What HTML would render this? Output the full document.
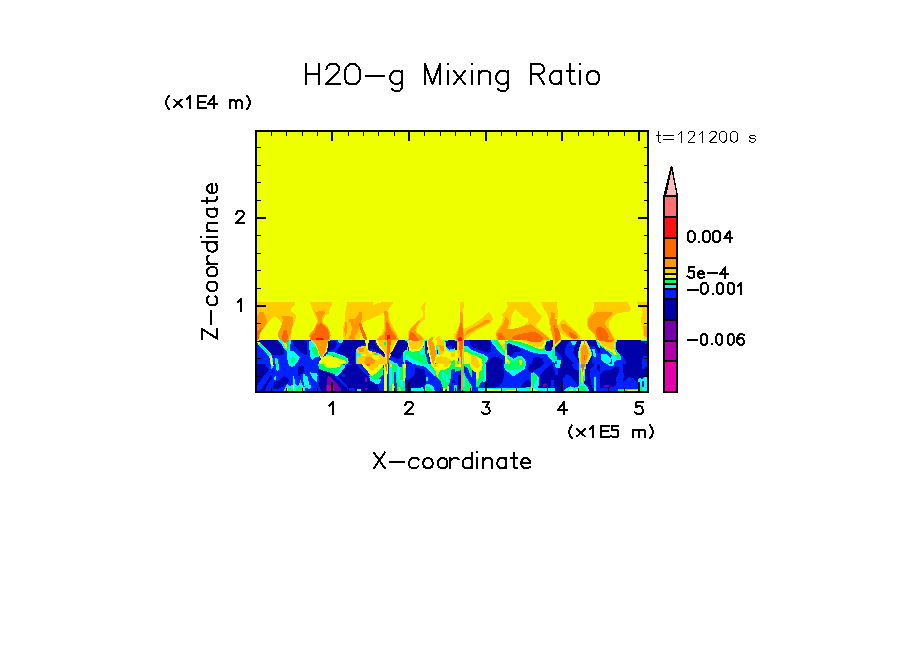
<!DOCTYPE html>
<html><head><meta charset="utf-8"><style>
html,body{margin:0;padding:0;background:#fff;width:904px;height:654px;overflow:hidden}
svg{display:block}
text{font-family:"Liberation Sans",sans-serif;fill:#000}
</style></head><body>
<svg width="904" height="654" viewBox="0 0 904 654" shape-rendering="crispEdges">
<rect x="0" y="0" width="904" height="654" fill="#fff"/>
<defs><clipPath id="cg"><rect x="257" y="302" width="390" height="38"/></clipPath><clipPath id="cb"><rect x="257" y="340" width="390" height="51"/></clipPath></defs>
<rect x="257" y="132" width="390" height="259" fill="#eeff00"/>
<g clip-path="url(#cg)">
<polygon points="257.0,302.0 294.7,302.0 294.7,305.4 291.3,308.1 291.3,311.5 295.4,314.1 296.0,318.2 294.7,321.5 292.7,326.3 291.7,331.6 291.3,335.7 291.3,340.4 257.0,340.4" fill="#ffcc00"/>
<polygon points="259.0,340.4 260.4,333.0 265.1,326.9 268.5,322.2 273.2,317.2 277.2,317.5 279.2,319.5 281.9,323.6 280.6,327.6 278.5,331.6 277.9,335.7 279.9,340.4" fill="#eeff00"/>
<polygon points="257.0,316.2 259.7,312.1 263.7,312.1 266.4,318.2 267.1,321.5 265.1,326.3 261.7,330.3 259.0,335.7 257.0,340.4" fill="#ff9900"/>
<polygon points="257.0,331.6 265.1,325.6 261.7,329.6 259.0,335.0 258.4,340.4 257.0,340.4" fill="#ff6600"/>
<polygon points="281.2,315.5 292.7,316.8 292.7,324.9 291.3,330.3 290.0,335.7 288.6,340.4 279.9,340.4 277.9,335.7 278.5,331.6 280.6,327.6 281.9,323.6 283.3,320.9" fill="#ff9900"/>
<polygon points="283.9,330.3 286.6,330.3 288.0,335.7 287.3,340.4 281.9,340.4 282.6,334.3" fill="#ff6600"/>
<polygon points="310.0,302.0 331.6,302.0 331.6,305.4 329.9,307.4 328.9,313.5 325.2,315.5 323.2,320.2 322.5,323.6 325.2,324.9 327.9,327.6 329.9,331.6 330.6,335.7 329.9,340.4 311.1,340.4 309.0,335.7 310.4,333.0 313.7,330.3 315.1,326.9 317.1,321.5 315.8,317.5 313.7,312.8 311.7,308.1" fill="#ffcc00"/>
<polygon points="315.1,312.5 318.5,311.1 323.8,311.1 325.2,312.5 323.2,315.5 321.5,318.2 321.8,322.2 325.2,324.9 327.9,327.6 329.9,331.6 330.6,335.7 329.9,340.4 310.4,340.4 309.0,335.7 311.1,332.3 313.7,330.3 315.1,326.3 317.1,323.6 318.5,320.2 317.1,316.8" fill="#ff9900"/>
<polygon points="316.4,326.3 320.5,322.9 322.5,323.6 325.2,326.3 327.9,329.6 329.2,333.7 329.2,337.0 327.9,340.4 311.7,340.4 310.4,337.0 311.7,334.3 315.1,332.3 315.8,328.9" fill="#ff6600"/>
<polygon points="315.8,338.4 318.5,337.7 322.5,337.7 323.8,339.4 323.8,340.4 315.8,340.4" fill="#ff1111"/>
<polygon points="347.4,302.0 355.0,302.0 355.0,340.4 344.0,340.4 343.3,335.7 342.7,330.3 344.0,323.6 345.4,318.2 345.4,311.5 346.7,304.7" fill="#ffcc00"/>
<polygon points="349.4,318.9 355.0,318.9 355.0,340.4 348.1,338.4 350.7,334.3 352.1,328.9 351.4,324.9 349.4,321.5" fill="#ff9900"/>
<polygon points="344.7,321.5 346.7,322.2 346.7,333.7 345.4,335.7 344.4,331.6" fill="#ff9900"/>
<polygon points="355.0,302.0 372.5,302.0 373.2,305.4 375.2,304.7 377.2,303.4 382.6,302.0 393.7,302.0 391.3,305.4 389.3,308.8 387.3,311.5 383.9,311.5 380.6,314.8 375.2,316.8 369.8,319.5 364.4,320.9 362.4,323.6 361.1,330.3 360.4,335.7 359.0,340.4 355.0,340.4" fill="#ffcc00"/>
<polygon points="355.0,318.9 357.7,315.5 359.7,312.1 361.7,311.5 361.7,318.2 361.1,323.6 359.0,328.3 357.0,333.0 355.0,335.7" fill="#ff9900"/>
<polygon points="359.0,323.6 361.1,322.9 363.1,328.9 365.8,334.3 367.4,340.4 365.1,340.4 362.4,335.7 360.4,329.6" fill="#ff6600"/>
<polygon points="383.3,310.8 388.0,310.8 390.0,320.2 392.7,326.9 396.7,333.0 398.7,337.0 399.4,340.4 376.5,340.4 377.9,337.7 381.9,334.3 383.9,328.3 383.9,318.2" fill="#ffcc00"/>
<polygon points="383.9,311.1 387.3,311.1 388.0,315.5 388.6,320.9 390.7,326.3 392.7,329.6 395.4,333.0 397.4,337.0 398.1,340.4 377.2,340.4 377.9,338.4 380.6,336.3 383.3,334.3 385.3,328.3 385.3,320.9 384.6,315.5" fill="#ff9900"/>
<polygon points="385.9,322.2 388.0,322.2 389.3,326.3 391.3,330.3 394.0,334.3 396.0,337.0 396.0,340.4 384.6,340.4 385.3,334.3 385.9,328.9" fill="#ff6600"/>
<polygon points="387.0,335.0 389.6,335.0 390.0,339.0 387.3,339.7" fill="#ff1111"/>
<polygon points="425.2,302.0 425.9,302.0 425.2,306.7 424.5,311.5 424.5,319.5 421.1,322.2 417.8,326.3 416.4,328.9 417.1,332.3 419.8,334.3 423.2,337.0 424.5,340.4 407.7,340.4 408.4,331.6 410.4,328.3 414.4,324.2 418.5,320.2 422.5,317.5 423.2,311.5 421.1,308.8 421.8,306.1" fill="#ffcc00"/>
<polygon points="418.5,320.9 419.8,321.5 416.4,326.3 415.1,329.6 416.4,333.0 419.8,335.7 422.5,338.4 423.2,340.4 408.4,340.4 409.0,331.6 412.4,326.9 415.8,323.6" fill="#ff9900"/>
<polygon points="410.4,331.6 413.1,333.0 416.4,336.3 418.5,340.4 409.0,340.4 409.0,335.0" fill="#ff6600"/>
<polygon points="428.5,339.0 431.2,337.7 432.2,336.3 432.9,338.4 433.3,340.4 428.5,340.4" fill="#ff9900"/>
<polygon points="435.3,339.0 437.3,337.0 439.3,335.7 440.7,338.4 442.7,340.4 435.3,340.4" fill="#ffcc00"/>
<polygon points="453.4,334.3 455.0,333.7 455.0,339.0 453.8,338.4" fill="#ffcc00"/>
<polygon points="460.0,302.0 463.7,302.0 463.7,306.7 462.7,311.5 463.1,327.6 465.1,329.6 464.4,340.4 455.0,340.4 455.0,334.3 457.7,328.9 459.7,322.2 460.0,311.5" fill="#ffcc00"/>
<polygon points="460.4,312.1 462.4,312.1 462.7,316.8 463.1,328.9 463.7,334.3 463.7,340.4 455.7,340.4 456.3,334.3 459.0,327.6 460.4,322.2" fill="#ff9900"/>
<polygon points="460.4,322.9 462.1,322.9 462.7,329.6 463.4,335.7 463.1,340.4 457.0,340.4 457.0,335.7 459.0,329.6" fill="#ff6600"/>
<polygon points="457.7,338.4 460.4,337.0 461.7,338.4 461.7,340.4 457.7,340.4" fill="#ff1111"/>
<polygon points="463.7,328.9 468.5,326.9 476.5,322.2 483.3,317.5 488.6,312.1 492.0,315.5 492.7,319.5 490.0,323.6 483.3,326.9 477.2,330.3 471.1,334.3 466.4,338.4 465.1,340.4 463.7,335.7" fill="#ffcc00"/>
<polygon points="466.4,331.0 471.8,328.3 479.2,324.2 485.9,319.5 489.3,319.5 490.0,321.5 487.3,323.6 481.9,326.3 475.2,329.6 468.5,333.7 465.1,336.3" fill="#ff9900"/>
<polygon points="502.1,313.5 505.0,312.1 505.0,340.4 496.7,340.4 495.4,333.0 498.1,328.3 501.4,323.6 502.8,318.2" fill="#ffcc00"/>
<polygon points="505.0,318.2 505.0,340.4 498.1,340.4 496.0,334.3 499.4,328.9 503.4,323.6" fill="#ff9900"/>
<polygon points="498.7,332.3 501.4,333.0 504.1,337.0 505.0,338.4 505.0,340.4 498.7,340.4 497.4,335.7" fill="#ff6600"/>
<polygon points="507.0,302.0 529.9,302.0 533.3,306.7 537.3,311.5 541.7,316.2 540.0,320.2 536.6,323.6 535.9,326.3 540.0,329.6 545.4,334.3 548.7,337.0 552.1,340.4 505.0,340.4 505.0,311.5 507.7,306.7" fill="#ffcc00"/>
<polygon points="515.1,309.1 518.5,312.1 522.5,316.2 528.5,318.9 527.9,322.2 523.8,325.6 518.5,327.6 509.0,329.6 511.1,323.6 511.1,317.5 513.1,312.8" fill="#eeff00"/>
<polygon points="505.0,316.8 507.7,318.2 509.0,321.5 508.4,326.3 506.3,329.6 505.0,329.6" fill="#ff9900"/>
<polygon points="541.3,302.0 555.0,302.0 555.0,340.4 552.8,340.4 552.1,335.7 550.7,331.6 549.4,324.9 548.7,318.2 546.7,312.8 543.3,308.1" fill="#ffcc00"/>
<polygon points="505.0,329.6 516.4,328.3 527.2,324.9 530.6,324.2 533.3,325.6 536.6,328.9 541.3,332.3 546.7,336.3 549.4,339.0 549.4,340.4 505.0,340.4" fill="#ff9900"/>
<polygon points="511.7,337.0 518.5,334.3 525.2,333.0 531.9,332.0 535.3,332.3 539.3,334.3 542.7,337.0 542.7,340.4 513.1,340.4" fill="#ff6600"/>
<polygon points="551.4,312.1 555.0,312.8 555.0,340.4 553.4,340.4 552.1,334.3 550.7,327.6 550.1,320.2" fill="#ff9900"/>
<polygon points="553.4,326.3 555.0,324.9 555.0,333.0 554.1,330.3" fill="#ff6600"/>
<polygon points="555.0,302.0 557.0,302.0 557.7,311.5 557.7,318.2 555.0,318.2" fill="#ffcc00"/>
<polygon points="555.0,318.2 557.0,319.5 557.7,326.9 560.4,333.7 561.1,340.4 555.0,340.4" fill="#ff9900"/>
<polygon points="555.0,327.6 557.7,328.3 559.7,333.0 560.4,338.4 559.7,340.4 555.0,340.4" fill="#ff6600"/>
<polygon points="563.1,318.9 567.1,322.2 572.5,327.6 577.9,333.0 580.6,336.3 579.9,340.4 573.8,340.4 567.1,337.0 561.7,333.7 559.0,329.6 557.7,326.3 560.4,322.2" fill="#ffcc00"/>
<polygon points="561.7,323.6 565.1,323.6 570.5,328.3 576.5,333.0 578.5,336.3 577.2,339.0 572.5,338.4 567.1,335.0 562.4,330.3 561.1,326.3" fill="#ff9900"/>
<polygon points="568.5,332.3 571.1,332.3 575.2,335.0 577.2,337.0 575.9,339.0 572.5,338.4 569.8,336.3" fill="#ff6600"/>
<polygon points="594.0,302.0 605.0,302.0 605.0,340.4 596.7,340.4 594.0,334.3 590.0,330.3 586.6,326.3 586.6,320.2 588.6,316.2 592.7,311.5 594.0,308.1" fill="#ffcc00"/>
<polygon points="598.1,311.5 605.0,311.5 605.0,340.4 596.7,340.4 594.7,334.3 590.0,329.6 588.0,325.6 588.0,320.2 591.3,315.5 595.4,312.8" fill="#ff9900"/>
<polygon points="596.7,327.6 600.7,326.9 605.0,328.9 605.0,340.4 598.1,340.4 596.0,333.0" fill="#ff6600"/>
<polygon points="600.0,302.0 627.6,302.0 629.6,306.1 631.6,309.4 628.9,311.5 620.2,312.8 614.8,314.8 609.4,320.9 608.7,326.3 610.1,330.3 613.5,335.7 616.1,340.4 600.0,340.4" fill="#ffcc00"/>
<polygon points="600.0,312.1 612.1,312.1 612.8,313.5 606.7,319.5 604.7,322.2 606.1,326.3 609.4,330.3 612.1,335.7 614.1,340.4 600.0,340.4" fill="#ff9900"/>
<polygon points="600.0,326.9 604.0,328.3 607.4,333.0 608.7,337.0 607.4,340.4 600.0,340.4" fill="#ff6600"/>
<polygon points="637.0,302.0 648.4,302.0 648.4,340.4 643.7,338.4 643.1,331.6 641.7,324.9 641.0,318.2 643.1,311.5 640.4,307.4 638.3,306.1" fill="#ffcc00"/>
<polygon points="644.4,326.3 648.4,324.9 648.4,338.4 644.4,335.7" fill="#ff9900"/>
</g>
<g clip-path="url(#cb)">
<rect x="257" y="340" width="390" height="51" fill="#0000aa"/>
<polygon points="256.9,339.9 305.0,339.9 305.0,366.0 256.9,366.0" fill="#0022ff"/>
<polygon points="260.5,340.2 279.3,340.2 281.5,344.1 283.8,348.5 284.3,353.5 282.7,354.6 271.6,354.6 266.1,348.0 260.5,343.0" fill="#0000aa"/>
<polygon points="292.6,340.2 305.0,340.2 305.0,354.6 299.2,351.3 293.7,345.2" fill="#0000aa"/>
<polygon points="278.2,340.2 291.0,340.2 290.4,344.6 289.8,350.7 288.2,351.8 286.0,350.7 283.8,348.0 281.5,344.1" fill="#00ffff"/>
<polygon points="284.9,340.2 289.3,340.2 288.7,346.3 288.2,350.7 286.5,350.7 286.0,344.6" fill="#00ff66"/>
<polygon points="282.1,340.2 286.0,340.2 287.1,349.1 286.0,349.1 283.8,345.2" fill="#eeff00"/>
<polygon points="281.0,338.0 289.8,338.0 288.2,341.3 284.9,343.5 282.7,341.3" fill="#ff6600"/>
<polygon points="287.1,351.3 293.7,351.3 299.8,357.4 298.1,361.2 294.8,364.5 293.7,366.0 288.2,366.0 287.6,361.2" fill="#00ffff"/>
<polygon points="291.0,357.9 294.3,356.8 294.8,360.1 293.2,363.4 291.0,363.4" fill="#00ff66"/>
<polygon points="274.9,357.9 277.1,358.5 278.2,361.2 278.2,366.0 275.5,366.0 274.9,361.2" fill="#00ffff"/>
<polygon points="275.7,360.1 277.4,360.1 277.7,366.0 275.9,366.0" fill="#00ff66"/>
<polyline points="257.5,340.8 260.5,345.2 266.1,350.7 270.5,355.7 271.6,360.1 272.1,366.0" fill="none" stroke="#00ffff" stroke-width="3"/>
<polyline points="258.9,343.3 260.5,345.2 266.1,350.7 269.4,354.6" fill="none" stroke="#00ff66" stroke-width="1.5"/>
<polyline points="257.2,340.2 258.3,342.4 259.4,344.1" fill="none" stroke="#eeff00" stroke-width="2.5"/>
<polyline points="270.5,356.3 271.3,360.1 271.9,366.0" fill="none" stroke="#eeff00" stroke-width="2"/>
<polygon points="256.9,364.0 305.0,364.0 305.0,391.1 256.9,391.1" fill="#0022ff"/>
<polygon points="256.9,364.0 265.2,364.0 266.1,366.8 268.8,369.5 267.7,371.7 263.3,376.7 259.4,381.7 256.9,385.6" fill="#0000aa"/>
<polygon points="260.0,391.1 266.1,382.8 270.5,375.1 272.7,376.7 268.8,382.8 266.1,387.2 264.4,391.1" fill="#0000aa"/>
<polygon points="273.3,387.2 274.4,382.3 278.8,380.0 284.9,376.2 288.2,378.4 289.8,381.1 286.0,384.5 281.5,387.2 278.8,388.9 273.3,388.9" fill="#0000aa"/>
<polygon points="298.1,367.3 301.5,365.1 304.2,366.2 303.7,372.3 300.9,375.1 298.7,376.7 297.6,374.0" fill="#0000aa"/>
<polygon points="271.6,369.5 273.0,369.5 273.0,372.8 271.6,372.8" fill="#0000aa"/>
<polygon points="270.5,364.0 273.3,364.0 272.7,368.4 271.6,369.0 271.0,367.3" fill="#00ffff"/>
<polyline points="272.4,364.0 272.6,366.2" fill="none" stroke="#eeff00" stroke-width="2"/>
<polygon points="275.5,364.0 278.8,364.0 278.8,370.1 277.1,371.2 276.0,369.5" fill="#00ffff"/>
<polygon points="276.0,364.0 278.2,364.0 278.0,367.3 276.3,367.3" fill="#00ff66"/>
<polygon points="288.2,364.0 294.8,364.0 294.8,366.2 292.1,366.8 289.3,365.7" fill="#00ffff"/>
<polygon points="273.8,377.3 275.5,376.2 276.3,377.8 275.5,380.0 274.1,379.8" fill="#00ffff"/>
<polygon points="283.2,391.1 286.0,386.1 287.6,383.9 289.3,386.1 292.6,385.0 293.2,376.2 294.3,376.2 294.8,382.3 297.0,386.1 299.2,384.5 300.4,380.6 301.5,383.4 302.6,385.0 303.7,387.2 305.0,386.1 305.0,391.1" fill="#00ffff"/>
<polygon points="284.9,391.1 287.1,387.2 288.2,388.3 291.0,388.3 293.2,389.4 293.7,391.1" fill="#00ff66"/>
<polygon points="295.9,388.3 298.1,387.2 300.9,385.6 302.0,388.3 302.6,391.1 295.9,391.1" fill="#00ff66"/>
<polygon points="300.4,380.0 301.2,380.0 301.2,383.9 300.4,383.9" fill="#00ff66"/>
<polygon points="292.9,385.0 293.7,385.0 294.0,391.1 293.2,391.1" fill="#eeff00"/>
<polygon points="286.8,387.8 287.6,387.8 287.9,391.1 287.0,391.1" fill="#eeff00"/>
<polygon points="303.1,374.0 305.0,373.4 305.0,386.1 303.7,386.1" fill="#00ffff"/>
<polygon points="305.0,339.9 355.0,339.9 355.0,366.0 305.0,366.0" fill="#0022ff"/>
<polygon points="305.0,341.3 307.2,341.3 307.2,354.6 305.0,354.6" fill="#0000aa"/>
<polygon points="309.4,341.3 313.3,341.3 316.1,344.6 318.8,351.8 319.4,356.3 317.7,357.4 315.0,357.4 312.7,360.1 311.1,359.0 310.0,354.6 309.4,349.1" fill="#00ffff"/>
<polygon points="312.2,347.4 316.1,346.3 318.3,350.7 318.3,354.6 315.5,355.7 313.3,354.0 312.2,350.7" fill="#00ff66"/>
<polygon points="310.0,339.9 330.4,339.9 328.8,342.4 327.7,346.3 327.1,350.7 324.9,354.0 322.7,356.8 321.0,358.5 318.8,354.6 317.2,349.1 314.4,343.5 311.1,340.8" fill="#eeff00"/>
<polygon points="311.1,339.9 329.3,339.9 327.7,342.4 326.6,346.3 326.0,350.7 324.1,353.5 322.1,356.3 321.3,357.4 319.7,354.6 318.0,349.1 315.2,343.5 312.2,340.8" fill="#ff9900"/>
<polygon points="327.7,341.3 336.0,341.3 337.1,344.6 332.7,350.2 328.2,350.7 327.7,346.3" fill="#0000aa"/>
<polygon points="337.6,340.2 343.7,340.2 341.5,343.0 339.3,343.5" fill="#00ffff"/>
<polygon points="343.2,340.2 355.0,340.2 355.0,366.0 349.2,366.0 348.1,360.1 345.9,356.3 339.3,353.5 336.0,351.3 341.0,345.7" fill="#0000aa"/>
<polygon points="327.1,352.9 331.0,351.8 334.9,352.4 338.2,354.0 343.7,355.7 347.6,358.5 348.7,361.8 347.0,366.0 343.7,366.0 344.8,361.2" fill="#00ffff"/>
<polygon points="326.0,354.0 329.9,352.9 333.8,353.5 337.1,354.6 341.5,356.3 345.9,358.5 347.0,361.2 345.4,366.0 340.4,366.0 340.4,359.0 336.0,357.4 331.5,355.7 327.1,355.7" fill="#00ff66"/>
<polygon points="318.8,366.0 319.4,361.2 321.6,357.9 326.0,355.7 328.2,354.6 332.7,356.3 336.0,357.4 340.4,359.0 344.8,360.1 345.9,361.8 343.7,366.0" fill="#eeff00"/>
<polygon points="312.7,360.1 315.0,357.4 318.8,356.8 319.9,360.1 318.3,366.0 313.8,366.0" fill="#0022ff"/>
<polygon points="305.0,364.0 355.0,364.0 355.0,391.1 305.0,391.1" fill="#0022ff"/>
<polygon points="318.3,369.5 321.6,370.1 326.0,371.7 329.9,373.4 333.8,375.6 336.0,378.4 340.4,381.7 343.7,385.0 347.0,387.8 348.1,391.1 321.6,391.1 319.4,387.2 318.8,380.6" fill="#0000aa"/>
<polygon points="338.2,369.5 343.7,366.2 355.0,364.0 355.0,387.8 349.2,388.3 348.1,387.2 343.7,382.3 339.3,377.8 337.1,376.2" fill="#0000aa"/>
<polygon points="341.5,374.0 344.8,374.0 344.8,377.3 341.5,377.3" fill="#0022ff"/>
<polygon points="336.0,372.3 339.3,369.5 343.7,365.1 345.9,364.0 344.8,367.3 340.4,373.4 337.1,376.7 334.3,375.1" fill="#00ffff"/>
<polygon points="318.3,364.0 343.7,364.0 339.3,370.1 336.0,372.8 333.8,374.0 329.9,372.3 326.0,371.2 321.6,370.1 318.8,368.4" fill="#00ff66"/>
<polygon points="323.3,364.0 341.5,364.0 341.0,366.2 333.8,368.4 328.2,368.4 324.4,366.2" fill="#eeff00"/>
<polygon points="310.0,372.3 312.7,372.8 316.6,373.4 317.7,375.1 316.6,382.3 315.0,380.6 312.2,377.8" fill="#00ffff"/>
<polygon points="305.0,376.2 306.7,375.6 308.3,378.4 308.9,385.0 307.2,386.1 305.0,386.1" fill="#00ffff"/>
<polygon points="305.0,385.0 308.3,385.0 307.8,388.3 305.0,388.3" fill="#00ff66"/>
<polygon points="308.3,385.0 311.6,385.6 310.5,388.3 307.8,388.9" fill="#00ffff"/>
<polygon points="328.2,376.2 330.4,377.3 333.8,380.6 337.1,383.9 340.4,387.8 341.5,391.1 326.0,391.1 326.6,383.4 327.1,378.4" fill="#7700aa"/>
<polygon points="327.1,385.0 330.4,384.5 331.0,391.1 326.6,391.1" fill="#b400aa"/>
<polygon points="332.7,385.0 333.8,385.0 334.3,391.1 332.7,391.1" fill="#b400aa"/>
<polygon points="355.0,339.9 405.0,339.9 405.0,366.0 355.0,366.0" fill="#0022ff"/>
<polygon points="355.0,339.9 365.0,339.9 366.1,342.4 364.4,344.6 360.5,345.7 357.8,347.4 356.1,350.7 355.0,352.4" fill="#0000aa"/>
<polygon points="356.1,349.1 358.3,348.5 358.3,366.0 356.1,366.0" fill="#00ffff"/>
<polygon points="368.3,340.2 374.9,340.2 375.5,343.5 376.6,346.3 379.3,349.1 383.8,351.8 386.0,353.5 384.9,355.1 381.0,353.5 376.0,350.7 371.6,349.1 368.3,348.5 367.7,344.6" fill="#0000aa"/>
<polygon points="356.7,349.1 358.3,347.4 361.6,346.3 366.1,345.7 367.2,349.1 370.5,351.3 374.9,351.8 379.9,354.0 383.8,356.8 386.0,357.4 386.5,366.0 357.2,366.0 356.7,360.1" fill="#ffcc00"/>
<polygon points="356.7,352.4 360.5,353.5 361.1,356.8 358.3,356.3 356.9,355.7" fill="#00ffff"/>
<polygon points="358.3,348.5 363.3,347.4 364.4,350.7 362.2,352.4 358.9,351.8" fill="#ff9900"/>
<polygon points="365.0,357.9 369.4,356.3 373.8,357.9 374.9,361.8 373.3,366.0 365.5,366.0 364.4,361.8" fill="#ff9900"/>
<polygon points="361.1,353.5 366.1,353.5 366.1,356.3 361.6,356.3" fill="#eeff00"/>
<polygon points="371.6,354.6 378.2,355.1 379.9,359.0 376.0,360.1 372.7,358.5" fill="#eeff00"/>
<polygon points="368.3,350.2 371.6,351.3 371.6,353.5 368.8,353.5" fill="#eeff00"/>
<polygon points="374.4,352.7 378.2,352.9 378.2,354.6 374.4,354.6" fill="#00ff66"/>
<polygon points="364.4,338.0 367.7,338.0 367.4,341.3 366.9,344.1 366.1,341.3" fill="#ff6600"/>
<polygon points="364.4,339.9 368.8,339.9 368.3,344.6 367.7,349.1 366.1,349.6 366.1,344.6" fill="#eeff00"/>
<polygon points="376.0,339.9 398.1,339.9 395.9,344.6 393.7,349.1 391.5,353.5 389.8,357.4 388.7,361.2 388.2,366.0 386.0,366.0 386.0,360.1 384.9,354.6 382.7,350.7 379.3,347.4 376.6,344.1" fill="#eeff00"/>
<polygon points="378.2,339.9 397.0,339.9 394.8,343.5 392.6,347.4 390.4,351.8 389.3,355.7 388.2,360.1 387.1,360.1 386.0,354.6 383.8,350.7 381.0,346.8 378.8,343.5" fill="#ffcc00"/>
<polygon points="387.1,339.9 391.0,339.9 390.4,346.3 389.3,354.6 388.2,366.0 386.5,366.0 386.8,354.6 387.1,346.3" fill="#ff6600"/>
<polygon points="383.8,341.9 386.0,341.9 386.0,344.6 383.8,344.6" fill="#00ff66"/>
<polygon points="398.7,339.9 405.0,339.9 405.0,353.5 402.6,354.6 400.9,357.4 398.1,359.0 394.8,357.4 391.0,356.3 390.4,353.5 393.7,349.1 396.5,344.6" fill="#0000aa"/>
<polygon points="389.3,360.1 392.6,361.2 394.8,362.9 399.2,364.0 402.6,366.0 388.7,366.0" fill="#00ffff"/>
<polygon points="403.1,351.8 405.0,351.3 405.0,366.0 403.7,366.0" fill="#00ffff"/>
<polygon points="403.7,354.6 405.0,354.6 405.0,360.1 403.7,360.1" fill="#00ff66"/>
<polygon points="355.0,364.0 405.0,364.0 405.0,391.1 355.0,391.1" fill="#0022ff"/>
<polygon points="355.0,364.0 357.2,364.0 358.3,367.3 362.2,371.2 366.1,375.1 370.5,378.4 374.9,382.3 378.2,386.1 379.3,391.1 355.0,391.1" fill="#0000aa"/>
<polygon points="368.3,374.0 371.6,376.2 373.8,375.1 377.1,372.3 379.3,370.1 382.7,367.3 383.8,368.4 382.7,375.1 379.3,378.4 376.0,380.6 372.7,379.5 370.5,378.4" fill="#00ff66"/>
<polygon points="369.4,377.3 372.7,378.9 376.0,380.6 379.3,378.4 381.0,379.5 379.3,383.9 376.0,383.9 372.7,381.7 370.5,380.6" fill="#00ffff"/>
<polygon points="362.2,364.0 383.8,364.0 382.7,367.3 379.3,370.1 377.1,372.3 373.8,375.1 371.6,376.2 369.4,374.0 366.1,369.5 363.3,366.8" fill="#eeff00"/>
<polygon points="365.0,364.0 379.3,364.0 377.1,367.3 373.8,369.5 370.5,370.1 367.7,367.3" fill="#ffcc00"/>
<polygon points="366.1,364.0 370.5,364.0 369.9,365.7 366.6,365.7" fill="#ff6600"/>
<polygon points="383.8,364.0 388.2,364.0 387.6,372.3 387.1,380.6 386.5,391.1 384.3,391.1 384.3,380.6 384.0,372.3" fill="#eeff00"/>
<polygon points="385.1,364.0 387.4,364.0 386.8,371.2 386.0,371.2" fill="#ff6600"/>
<polygon points="389.3,364.0 405.0,364.0 405.0,391.1 389.3,391.1" fill="#00ff66"/>
<polygon points="389.3,367.3 391.5,367.3 392.1,380.6 391.0,386.1 389.3,386.1" fill="#00ffff"/>
<polygon points="397.0,364.0 399.2,364.0 400.4,375.1 399.2,380.6 397.0,377.8" fill="#00ffff"/>
<polygon points="399.2,380.6 402.6,379.5 403.7,386.1 400.9,387.2" fill="#00ffff"/>
<polygon points="393.7,371.7 395.9,371.7 397.0,391.1 394.8,391.1" fill="#0022ff"/>
<polygon points="398.1,364.0 402.0,364.0 401.5,367.3 398.7,367.3" fill="#0022ff"/>
<polygon points="390.4,364.0 392.1,364.0 392.1,367.3 390.4,367.3" fill="#eeff00"/>
<polygon points="392.1,383.9 393.7,383.9 394.3,391.1 392.3,391.1" fill="#eeff00"/>
<polygon points="402.6,364.0 405.0,364.0 405.0,380.6 403.1,380.6" fill="#eeff00"/>
<polygon points="398.7,387.2 400.4,387.2 400.6,391.1 398.7,391.1" fill="#eeff00"/>
<polygon points="365.0,377.3 366.9,377.3 367.2,382.3 365.2,382.3" fill="#7700aa"/>
<polygon points="365.0,387.8 367.7,387.8 367.4,390.0 365.2,390.0" fill="#7700aa"/>
<polygon points="357.2,388.9 361.1,388.9 361.1,391.1 357.2,391.1" fill="#00ffff"/>
<polygon points="405.0,339.9 455.0,339.9 455.0,366.0 405.0,366.0" fill="#0022ff"/>
<polygon points="405.0,340.2 408.3,340.2 408.3,351.3 405.0,351.8" fill="#00ffff"/>
<polygon points="405.0,340.8 407.2,340.8 407.8,344.6 407.2,349.1 405.0,350.7" fill="#0000aa"/>
<polygon points="405.0,350.7 408.3,351.3 413.8,351.8 419.4,350.7 422.1,348.5 423.8,346.3 424.9,349.1 426.0,354.6 427.1,360.1 428.2,366.0 421.6,366.0 418.8,362.9 413.3,360.1 408.3,356.3 405.0,356.3" fill="#00ff66"/>
<polygon points="405.0,356.3 408.3,354.0 409.4,356.8 413.3,359.6 418.8,361.8 422.1,364.0 424.9,366.0 416.1,366.0 410.5,362.3 407.2,360.1 405.0,360.1" fill="#00ffff"/>
<polygon points="406.1,361.8 411.6,363.4 417.7,366.0 406.1,366.0" fill="#0000aa"/>
<polygon points="407.8,339.9 424.4,339.9 423.8,345.7 422.1,348.5 419.4,350.7 413.8,351.8 409.4,351.3 408.3,346.3" fill="#eeff00"/>
<polygon points="408.3,339.9 423.8,339.9 423.3,343.5 421.6,346.8 417.7,349.1 412.2,349.6 410.0,348.0 408.9,343.5" fill="#ffcc00"/>
<polygon points="409.4,338.0 422.7,338.0 420.5,340.2 415.0,341.3 410.5,340.2" fill="#ff6600"/>
<polygon points="419.9,351.3 423.3,349.1 424.4,352.4 423.3,354.6 420.5,354.6" fill="#00ffff"/>
<polygon points="424.4,340.2 428.2,340.2 428.2,354.0 424.6,354.0" fill="#00ffff"/>
<polygon points="424.9,340.8 427.7,340.8 427.7,349.1 427.1,353.5 425.5,353.5 424.9,349.1" fill="#0000aa"/>
<polygon points="427.1,339.9 433.8,339.9 436.5,346.3 437.1,354.6 436.0,361.2 434.3,366.0 431.5,366.0 429.9,359.0 428.2,351.8 427.1,344.6" fill="#eeff00"/>
<polygon points="428.2,339.9 432.1,339.9 433.8,343.5 435.4,349.1 436.0,354.6 434.9,360.1 433.8,364.0 432.7,364.0 431.0,357.4 429.3,349.1 428.2,343.5" fill="#ff9900"/>
<polygon points="433.8,339.9 444.8,339.9 445.9,344.6 447.0,350.2 451.5,351.3 455.0,350.7 455.0,366.0 436.0,366.0 437.1,354.6 436.5,346.3" fill="#eeff00"/>
<polygon points="437.1,339.9 443.7,339.9 443.7,346.3 444.8,351.8 441.5,354.6 438.2,354.6 437.1,346.3" fill="#ffcc00"/>
<polygon points="439.3,345.2 443.7,346.3 444.3,350.7 441.5,350.7 439.8,349.1" fill="#ff9900"/>
<polygon points="436.0,357.9 441.0,356.3 446.5,357.4 450.4,360.1 452.0,363.4 450.9,366.0 436.0,366.0" fill="#ffcc00"/>
<polygon points="450.4,352.9 455.0,352.4 455.0,356.8 451.5,357.4" fill="#ffcc00"/>
<polygon points="436.0,344.6 438.2,345.7 438.7,354.0 436.5,354.6 435.7,349.1" fill="#00ffff"/>
<polygon points="436.8,350.2 437.9,350.2 437.9,353.5 437.0,353.5" fill="#0000aa"/>
<polygon points="444.3,340.2 455.0,340.2 455.0,350.7 451.5,351.3 447.0,350.2 444.8,344.6" fill="#00ffff"/>
<polygon points="445.4,340.8 450.4,340.2 455.0,340.2 455.0,348.0 452.0,349.1 449.2,349.6 447.0,348.0 445.9,344.6" fill="#0000aa"/>
<polygon points="447.0,346.3 452.0,345.7 452.0,349.1 449.2,349.6" fill="#0022ff"/>
<polygon points="450.4,361.2 455.0,360.1 455.0,366.0 452.0,366.0" fill="#00ff66"/>
<polygon points="405.0,364.0 455.0,364.0 455.0,391.1 405.0,391.1" fill="#0022ff"/>
<polygon points="405.0,364.0 406.1,364.0 406.1,368.4 405.0,368.4" fill="#eeff00"/>
<polygon points="405.0,368.4 406.1,368.4 406.1,375.1 405.0,375.1" fill="#00ff66"/>
<polygon points="405.0,375.1 406.1,375.1 406.1,377.8 405.0,377.8" fill="#00ffff"/>
<polygon points="415.0,368.4 418.8,368.4 424.4,369.5 425.5,375.1 425.5,383.4 423.3,387.2 418.8,388.3 413.3,388.3 410.5,391.1 406.1,391.1 405.0,386.1 405.0,380.6 409.4,379.5 413.3,376.2 415.5,372.8" fill="#0000aa"/>
<polygon points="416.1,364.0 428.2,364.0 431.0,367.3 433.8,370.6 436.0,375.1 434.9,376.7 432.7,374.0 429.3,370.6 425.5,367.3 421.6,365.7 416.1,365.1" fill="#00ffff"/>
<polygon points="426.0,376.7 428.2,376.7 428.2,380.6 426.0,380.6" fill="#00ffff"/>
<polygon points="424.9,385.0 428.2,383.9 431.5,385.0 433.8,387.2 434.9,391.1 424.9,391.1" fill="#00ffff"/>
<polygon points="426.0,386.1 429.3,387.2 431.5,389.4 432.1,391.1 426.0,391.1" fill="#00ff66"/>
<polygon points="410.5,388.3 418.8,387.8 423.3,387.2 423.8,391.1 410.5,391.1" fill="#00ffff"/>
<polygon points="428.8,364.0 455.0,364.0 455.0,369.5 451.5,369.5 450.4,380.6 447.0,388.3 443.7,391.1 440.4,380.6 437.1,377.8 434.9,375.1 432.7,370.6 429.9,367.3" fill="#00ff66"/>
<polygon points="430.4,364.0 451.5,364.0 449.2,367.3 444.8,369.5 440.4,370.1 438.2,375.1 438.7,377.8 437.1,376.7 435.4,370.6 432.7,367.3" fill="#eeff00"/>
<polygon points="432.7,364.0 438.2,364.0 437.6,366.8 434.9,367.3" fill="#ffcc00"/>
<polygon points="443.7,364.0 449.2,364.0 447.0,366.8 444.3,366.8" fill="#ffcc00"/>
<polygon points="441.5,372.3 443.7,372.3 444.8,379.5 443.2,380.6" fill="#00ffff"/>
<polygon points="445.9,375.1 448.1,375.1 448.7,382.3 446.5,382.3" fill="#00ffff"/>
<polygon points="442.6,388.3 444.8,388.3 444.8,391.1 442.6,391.1" fill="#eeff00"/>
<polygon points="447.0,386.1 448.7,386.1 449.2,391.1 447.3,391.1" fill="#eeff00"/>
<polygon points="451.5,369.5 455.0,369.0 455.0,391.1 450.4,391.1 450.4,380.6" fill="#0022ff"/>
<polygon points="452.0,380.6 455.0,380.0 455.0,382.8 452.0,382.8" fill="#0000aa"/>
<polygon points="453.7,385.0 455.0,385.0 455.0,391.1 453.7,391.1" fill="#00ff66"/>
<polygon points="455.0,339.9 505.0,339.9 505.0,366.0 455.0,366.0" fill="#0022ff"/>
<polygon points="455.0,340.2 458.3,340.2 458.3,350.2 455.0,350.7" fill="#00ffff"/>
<polygon points="455.0,341.3 457.2,341.3 457.8,349.1 455.0,350.2" fill="#0000aa"/>
<polygon points="455.0,350.2 458.3,350.2 458.3,366.0 455.0,366.0" fill="#eeff00"/>
<polygon points="456.7,361.2 460.5,361.2 460.5,366.0 456.7,366.0" fill="#00ff66"/>
<polygon points="469.4,340.2 489.3,340.2 491.0,343.5 491.0,351.8 488.2,352.9 483.8,351.3 477.1,349.1 472.7,347.4 469.9,344.1" fill="#0000aa"/>
<polygon points="489.3,359.0 493.7,356.8 499.2,357.4 503.1,360.1 503.7,366.0 486.0,366.0 487.1,362.3" fill="#0000aa"/>
<polygon points="463.3,345.7 467.7,346.3 471.6,350.2 478.2,352.4 483.8,354.6 487.6,356.8 488.2,359.0 486.0,362.3 483.8,366.0 463.3,366.0" fill="#00ffff"/>
<polygon points="463.8,348.0 467.7,349.1 471.6,351.8 478.2,354.0 483.8,355.7 486.0,357.9 484.3,361.8 482.7,366.0 463.8,366.0" fill="#00ff66"/>
<polygon points="463.8,352.4 467.7,352.4 471.6,354.6 477.1,356.3 481.5,359.0 482.7,361.8 481.5,366.0 463.8,366.0" fill="#eeff00"/>
<polygon points="470.5,356.3 474.9,355.7 477.1,357.9 478.8,361.8 479.3,366.0 470.5,366.0" fill="#ffcc00"/>
<polygon points="457.2,339.9 463.8,339.9 463.8,351.8 463.3,360.1 462.7,366.0 460.0,366.0 458.3,357.4 457.2,351.8" fill="#ffcc00"/>
<polygon points="458.3,339.9 462.7,339.9 462.5,349.1 462.2,357.4 461.9,366.0 461.1,366.0 460.5,357.4 459.4,349.1" fill="#ff6600"/>
<polygon points="457.8,338.0 462.2,338.0 461.6,340.5 458.3,340.5" fill="#ff1111"/>
<polygon points="490.4,340.2 493.7,340.2 498.1,345.7 503.1,351.3 505.0,353.5 505.0,356.3 502.6,354.6 497.0,349.1 492.6,344.1" fill="#00ffff"/>
<polygon points="493.7,340.2 498.1,340.2 500.4,344.6 505.0,349.1 505.0,353.5 502.6,351.3 497.0,346.3" fill="#00ff66"/>
<polygon points="497.0,339.9 505.0,339.9 505.0,349.6 500.9,345.2 498.7,341.9" fill="#eeff00"/>
<polygon points="502.0,344.6 505.0,344.1 505.0,350.7 502.6,349.1" fill="#ffcc00"/>
<polygon points="455.0,364.0 505.0,364.0 505.0,391.1 455.0,391.1" fill="#0022ff"/>
<polygon points="455.0,364.0 460.5,364.0 460.5,367.3 457.2,370.6 455.0,370.6" fill="#eeff00"/>
<polygon points="455.0,367.3 460.5,366.8 461.6,369.5 458.3,371.2 455.0,371.7" fill="#00ff66"/>
<polygon points="458.3,375.1 460.5,375.1 460.5,388.9 458.3,388.9" fill="#0000aa"/>
<polygon points="455.0,385.0 457.2,385.0 457.2,391.1 455.0,391.1" fill="#00ff66"/>
<polygon points="462.2,364.0 471.6,364.0 471.6,391.1 462.2,391.1" fill="#00ff66"/>
<polygon points="463.8,366.2 467.2,367.3 470.5,375.1 473.3,380.6 474.9,386.1 473.3,388.3 471.0,385.0 468.3,380.6 466.1,377.3 464.4,372.3" fill="#0022ff"/>
<polygon points="462.7,375.1 465.0,375.1 465.5,387.2 462.7,387.2" fill="#00ffff"/>
<polygon points="482.7,364.0 486.0,364.0 486.0,380.6 483.8,382.3 481.5,380.6" fill="#00ffff"/>
<polygon points="476.0,364.0 484.3,364.0 484.3,377.8 481.0,382.3 478.2,387.2 476.0,387.2" fill="#00ff66"/>
<polygon points="469.4,364.0 482.7,364.0 482.1,369.5 479.3,372.3 478.2,380.6 476.6,380.6 476.0,372.3 472.7,370.6 470.5,367.3" fill="#eeff00"/>
<polygon points="471.6,364.0 480.4,364.0 479.3,367.3 477.1,368.4 473.8,366.8" fill="#ffcc00"/>
<polyline points="462.2,364.0 462.2,391.1" fill="none" stroke="#ff9900" stroke-width="1.5"/>
<polygon points="486.0,364.0 502.0,364.0 503.7,369.5 503.7,377.8 502.6,381.7 499.2,386.1 494.8,388.3 488.2,388.3 486.0,385.0" fill="#0000aa"/>
<polygon points="503.7,364.0 505.0,364.0 505.0,368.4 503.7,368.4" fill="#00ffff"/>
<polygon points="478.2,388.3 505.0,388.3 505.0,391.1 478.2,391.1" fill="#00ffff"/>
<polygon points="487.1,389.2 501.5,389.2 501.5,391.1 487.1,391.1" fill="#eeff00"/>
<polygon points="461.6,390.0 462.7,390.0 462.7,391.1 461.6,391.1" fill="#7700aa"/>
<polygon points="505.0,339.9 555.0,339.9 555.0,366.0 505.0,366.0" fill="#0022ff"/>
<polygon points="505.0,339.9 555.0,339.9 555.0,340.2 547.0,340.2 545.9,353.5 538.2,353.5 532.7,352.4 527.1,350.2 521.6,348.0 516.1,345.7 511.1,344.1 507.2,344.1 505.0,344.6" fill="#00ffff"/>
<polygon points="505.0,339.9 555.0,339.9 544.8,340.2 544.8,351.3 538.2,351.3 533.8,350.2 528.2,348.0 522.7,345.7 516.1,343.5 510.5,342.4 505.0,342.4" fill="#00ff66"/>
<polygon points="505.0,339.9 555.0,339.9 553.1,340.8 551.5,340.2 547.0,340.8 544.8,345.2 543.2,349.1 539.3,349.1 534.9,347.4 529.9,345.2 523.3,343.0 516.1,340.8 510.5,340.2 505.0,340.8" fill="#eeff00"/>
<polygon points="521.6,339.9 544.8,339.9 543.7,343.5 541.5,346.8 538.2,347.4 532.7,345.2 527.1,343.0 522.7,341.3" fill="#ffcc00"/>
<polygon points="526.0,339.9 542.6,339.9 540.4,341.9 534.9,342.4 529.3,341.3" fill="#ff6600"/>
<polygon points="505.0,344.6 507.2,344.1 507.2,366.0 505.0,366.0" fill="#00ff66"/>
<polygon points="505.0,350.2 506.7,350.2 507.2,355.7 508.3,360.1 507.2,364.5 505.0,364.5" fill="#eeff00"/>
<polygon points="506.7,344.1 509.4,343.0 513.3,345.2 517.7,346.3 520.5,349.1 521.0,350.7 518.3,352.4 513.8,352.4 511.6,355.1 510.5,356.8 508.3,355.1 506.9,350.2" fill="#0000aa"/>
<polygon points="507.2,354.6 510.5,356.8 513.8,359.0 517.2,356.3 521.6,355.7 524.9,359.0 526.0,362.9 526.0,366.0 507.2,366.0" fill="#00ffff"/>
<polygon points="508.3,357.9 511.6,360.1 514.4,361.2 517.7,358.5 521.6,357.9 523.8,361.2 524.4,366.0 508.3,366.0" fill="#00ff66"/>
<polygon points="518.8,360.1 521.6,359.6 522.1,363.4 519.9,364.5" fill="#eeff00"/>
<polygon points="507.2,359.0 509.4,360.1 510.0,364.0 507.8,364.0" fill="#eeff00"/>
<polygon points="532.7,359.0 534.9,357.4 539.3,356.8 542.6,359.0 543.7,362.9 543.2,366.0 532.1,366.0" fill="#0000aa"/>
<polygon points="545.9,340.2 555.0,340.2 555.0,362.9 552.6,361.8 549.2,357.4 547.0,354.6 545.9,353.5 544.8,350.2" fill="#00ffff"/>
<polygon points="547.0,340.8 552.6,340.2 552.6,346.3 551.5,350.2 548.1,351.3 544.8,350.2 544.8,346.3" fill="#0000aa"/>
<polygon points="551.5,351.3 555.0,350.2 555.0,360.1 553.1,360.1" fill="#00ff66"/>
<polygon points="553.1,339.9 555.0,339.9 555.0,349.1 553.1,349.1" fill="#ffcc00"/>
<polygon points="545.9,354.6 549.2,360.1 552.6,366.0 549.2,366.0 547.0,361.2 544.8,357.4" fill="#0022ff"/>
<polygon points="505.0,364.0 555.0,364.0 555.0,391.1 505.0,391.1" fill="#0022ff"/>
<polygon points="505.0,364.0 526.0,364.0 524.9,368.4 521.6,371.2 517.7,373.4 513.8,376.2 511.1,375.1 507.8,371.7 505.0,370.1" fill="#00ffff"/>
<polygon points="505.0,364.0 524.9,364.0 523.3,367.3 520.5,369.0 516.1,369.5 511.6,370.1 508.3,369.5 505.0,368.4" fill="#00ff66"/>
<polygon points="519.9,364.0 521.6,364.0 521.6,365.1 519.9,365.1" fill="#eeff00"/>
<polygon points="528.8,364.0 543.2,364.0 540.4,367.3 536.0,369.5 532.7,371.7 529.3,371.7 528.2,369.5" fill="#0000aa"/>
<polygon points="540.4,375.1 543.7,370.6 548.1,367.3 551.5,364.0 555.0,364.0 555.0,388.3 538.2,388.3 539.3,380.6" fill="#0000aa"/>
<polygon points="552.6,364.0 555.0,364.0 555.0,372.3 553.7,369.5" fill="#0022ff"/>
<polygon points="550.9,379.5 553.7,379.5 553.7,388.3 550.9,388.3" fill="#0022ff"/>
<polygon points="520.5,385.6 524.9,381.7 527.7,379.5 530.4,380.6 531.0,386.1 527.1,387.2 521.6,387.2" fill="#0000aa"/>
<polygon points="531.5,372.8 533.8,372.3 538.2,376.2 539.3,380.6 538.2,388.3 531.5,388.3 531.0,380.6" fill="#00ffff"/>
<polygon points="532.1,374.0 534.3,373.4 537.1,377.3 537.1,380.6 534.9,380.6 534.3,386.1 532.1,388.3" fill="#00ff66"/>
<polygon points="505.0,387.8 555.0,387.8 555.0,391.1 505.0,391.1" fill="#00ffff"/>
<polygon points="506.1,389.6 516.1,389.6 516.1,391.1 506.1,391.1" fill="#eeff00"/>
<polygon points="526.0,386.7 531.0,386.7 531.0,388.9 526.0,388.9" fill="#00ff66"/>
<polygon points="531.0,386.1 532.1,386.1 532.1,391.1 531.0,391.1" fill="#eeff00"/>
<polygon points="533.2,389.4 537.1,389.4 537.1,391.1 533.2,391.1" fill="#eeff00"/>
<polygon points="543.2,384.5 545.4,383.4 547.0,384.5 545.4,386.7 543.2,386.7" fill="#7700aa"/>
<polygon points="555.0,339.9 605.0,339.9 605.0,366.0 555.0,366.0" fill="#0000aa"/>
<polygon points="555.0,339.9 561.9,339.9 558.3,344.4 555.6,347.4 555.0,347.7" fill="#00ff66"/>
<polygon points="555.0,339.9 561.1,339.9 557.8,344.1 555.0,346.3" fill="#eeff00"/>
<polygon points="555.0,339.9 560.0,339.9 556.7,343.0 555.0,344.1" fill="#ff6600"/>
<polygon points="566.1,345.2 569.4,341.3 571.6,341.3 573.3,343.5 574.9,345.7 573.8,349.1 573.3,352.4 574.9,356.3 577.1,359.0 578.8,362.9 579.3,366.0 576.0,366.0 572.7,361.8 568.8,358.5 565.5,354.6 565.0,350.2" fill="#0022ff"/>
<polygon points="571.0,341.3 577.1,341.3 574.4,345.2 572.1,345.2" fill="#00ffff"/>
<polygon points="555.0,351.8 557.2,351.8 560.5,354.6 562.2,357.9 560.5,361.2 560.5,366.0 555.0,366.0" fill="#0022ff"/>
<polygon points="555.0,356.3 556.7,356.3 556.7,361.2 555.0,361.2" fill="#00ff66"/>
<polygon points="556.7,360.1 561.1,360.1 561.1,366.0 556.7,366.0" fill="#00ffff"/>
<polygon points="581.0,341.3 586.5,341.3 589.0,345.7 591.2,350.7 592.3,354.6 590.1,359.3 587.9,363.2 586.8,366.0 579.9,366.0 578.7,360.1 578.1,354.6 578.7,349.1 580.4,344.6" fill="#00ffff"/>
<polygon points="581.5,341.3 586.0,341.3 588.2,345.7 590.4,350.7 591.5,354.6 589.3,359.0 587.1,362.9 586.0,366.0 580.4,366.0 579.3,360.1 578.8,354.6 579.3,349.1 581.0,344.6" fill="#eeff00"/>
<polygon points="582.7,343.5 586.0,343.5 588.2,347.4 589.8,351.8 590.4,354.6 588.2,358.5 586.5,362.9 585.4,366.0 581.0,366.0 580.2,360.1 579.6,354.6 580.2,349.1 581.5,345.7" fill="#ffcc00"/>
<polygon points="583.2,344.6 586.0,344.6 587.6,349.1 588.7,353.5 587.6,357.4 586.0,361.2 584.9,366.0 581.5,366.0 581.0,360.1 580.7,354.6 581.0,349.1" fill="#ff9900"/>
<polygon points="583.8,354.6 585.4,354.6 585.4,360.1 584.0,360.1" fill="#ff6600"/>
<polyline points="584.6,338.0 584.6,344.1" fill="none" stroke="#ff6600" stroke-width="1.5"/>
<polygon points="589.3,346.3 593.7,346.3 597.0,350.2 600.4,354.6 600.9,360.1 602.6,362.9 605.0,366.0 593.7,366.0 591.5,361.2 592.6,354.6" fill="#0022ff"/>
<polygon points="592.1,349.1 594.8,349.1 596.5,357.4 593.7,357.4" fill="#00ffff"/>
<polygon points="595.9,339.9 605.0,339.9 605.0,354.6 602.6,352.9 599.2,348.0 597.0,343.5" fill="#00ffff"/>
<polygon points="595.9,339.9 605.0,339.9 605.0,352.9 603.1,350.7 600.4,345.7 597.6,341.9" fill="#00ff66"/>
<polygon points="596.5,339.9 605.0,339.9 605.0,351.3 603.1,349.1 600.9,344.6 598.1,341.3" fill="#eeff00"/>
<polygon points="598.7,339.9 605.0,339.9 605.0,346.3 602.6,344.6" fill="#ff6600"/>
<polygon points="600.4,354.0 605.0,353.5 605.0,364.0 602.6,362.9 600.9,360.1" fill="#00ffff"/>
<polygon points="555.0,364.0 605.0,364.0 605.0,391.1 555.0,391.1" fill="#0000aa"/>
<polygon points="555.0,364.0 558.3,364.0 558.3,375.1 555.0,375.1" fill="#0022ff"/>
<polygon points="555.0,364.0 560.5,364.0 559.4,368.4 555.0,367.3" fill="#00ffff"/>
<polygon points="571.6,364.0 579.3,364.0 578.8,369.5 576.0,370.1 573.3,367.3" fill="#0022ff"/>
<polygon points="563.3,378.4 566.6,374.0 570.5,376.2 573.3,379.5 576.0,382.8 578.2,387.2 578.2,391.1 563.3,391.1" fill="#0022ff"/>
<polygon points="590.4,369.5 594.8,364.0 597.0,364.0 597.0,369.5 602.6,371.2 605.0,369.5 605.0,391.1 593.7,391.1 591.5,385.0 590.4,377.8" fill="#0022ff"/>
<polygon points="598.1,369.5 602.0,369.5 601.5,372.3 598.7,372.3" fill="#0000aa"/>
<polygon points="579.3,364.0 586.0,364.0 584.9,375.1 583.8,391.1 579.3,391.1 578.8,375.1" fill="#00ffff"/>
<polygon points="580.2,369.5 584.3,369.5 583.5,391.1 579.9,391.1" fill="#00ff66"/>
<polygon points="580.7,364.0 585.1,364.0 582.7,382.8 581.5,382.8" fill="#eeff00"/>
<polygon points="581.0,364.0 585.4,364.0 584.0,368.4 582.7,372.8 581.5,368.4" fill="#ff6600"/>
<polygon points="563.8,390.0 570.5,386.1 574.4,387.8 578.8,386.1 581.5,382.3 584.9,383.9 588.2,388.3 589.3,391.1 563.8,391.1" fill="#00ffff"/>
<polygon points="568.8,388.9 572.7,388.9 573.3,391.1 568.8,391.1" fill="#eeff00"/>
<polygon points="575.5,388.9 578.2,388.9 578.2,391.1 575.5,391.1" fill="#eeff00"/>
<polygon points="579.3,386.1 584.9,386.1 586.0,391.1 578.8,391.1" fill="#00ff66"/>
<polygon points="593.7,377.3 595.9,377.3 595.9,391.1 593.7,391.1" fill="#00ffff"/>
<polygon points="555.8,386.7 556.9,386.7 556.9,387.8 555.8,387.8" fill="#7700aa"/>
<polygon points="603.7,385.0 605.0,385.0 605.0,386.7 603.7,386.7" fill="#7700aa"/>
<polygon points="600.0,339.9 650.0,339.9 650.0,366.0 600.0,366.0" fill="#0022ff"/>
<polygon points="600.0,345.7 602.2,347.4 606.6,350.7 611.1,354.6 614.4,357.9 616.6,360.1 621.0,360.1 621.6,356.8 618.8,353.5 616.6,351.3 616.0,343.5 617.1,339.9 600.0,339.9" fill="#00ffff"/>
<polygon points="600.0,339.9 616.6,339.9 615.5,343.5 614.9,349.1 616.6,352.4 619.4,355.1 621.0,357.4 620.5,359.6 617.7,359.0 614.4,355.7 610.0,352.4 605.5,349.1 601.1,346.3 600.0,345.2" fill="#00ff66"/>
<polygon points="600.0,339.9 616.0,339.9 614.9,343.5 614.4,349.1 615.5,352.4 616.6,354.6 614.4,354.6 610.0,351.3 605.5,348.5 601.7,345.7 600.0,344.1" fill="#eeff00"/>
<polygon points="600.0,339.9 615.5,339.9 614.4,343.5 613.8,349.1 612.2,350.2 608.3,348.5 604.4,346.3 601.1,344.1 600.0,343.0" fill="#ffcc00"/>
<polygon points="600.0,339.9 614.4,339.9 613.3,341.3 608.3,341.9 603.3,341.3 600.0,341.3" fill="#ff6600"/>
<polygon points="601.1,354.6 604.4,353.5 607.7,354.6 610.5,357.9 611.1,361.8 608.8,364.0 605.0,363.4 601.7,360.1 600.6,357.4" fill="#00ffff"/>
<polygon points="611.1,355.7 613.3,356.8 616.6,360.1 614.4,362.3 612.7,365.1 611.9,362.9" fill="#00ffff"/>
<polygon points="617.1,340.2 647.0,340.2 647.0,356.3 644.2,357.4 642.0,360.1 640.9,366.0 626.0,366.0 625.4,360.1 622.1,355.7 619.4,353.5 616.6,350.7 616.0,343.5" fill="#0000aa"/>
<polygon points="644.8,341.3 647.0,341.3 647.0,344.1 644.8,344.1" fill="#0022ff"/>
<polygon points="643.1,356.3 647.0,355.7 647.0,366.0 640.9,366.0 642.0,361.2" fill="#0022ff"/>
<polygon points="640.9,339.9 647.0,339.9 647.0,340.8 640.9,340.8" fill="#00ffff"/>
<polygon points="600.0,364.0 650.0,364.0 650.0,391.1 600.0,391.1" fill="#0022ff"/>
<polygon points="600.0,375.1 602.2,372.3 605.5,370.1 611.1,369.5 614.4,367.3 618.8,367.3 619.9,369.5 617.7,375.1 616.0,378.4 616.6,382.3 615.5,386.1 611.1,387.2 605.5,388.3 600.0,388.3" fill="#0000aa"/>
<polygon points="623.2,364.0 641.5,364.0 642.0,368.4 644.2,369.5 645.4,367.3 647.0,367.3 647.0,376.2 644.2,376.7 642.0,378.4 638.7,382.3 636.0,381.7 633.2,377.8 627.7,377.3 624.9,380.6 623.2,382.3 623.8,375.1 623.2,369.5" fill="#0000aa"/>
<polygon points="608.3,364.0 613.8,364.0 613.3,365.7 608.8,365.7" fill="#00ffff"/>
<polygon points="637.6,379.5 639.8,377.8 642.0,379.5 644.2,376.7 647.0,376.7 647.0,391.1 637.6,391.1" fill="#00ffff"/>
<polygon points="642.0,380.6 643.7,380.6 643.7,387.2 642.0,387.2" fill="#0022ff"/>
<polygon points="638.7,385.0 642.0,385.0 642.0,391.1 638.7,391.1" fill="#00ff66"/>
<polygon points="618.3,388.9 624.3,388.9 624.3,391.1 618.3,391.1" fill="#00ffff"/>
<polygon points="619.4,389.4 638.7,389.4 638.7,391.1 619.4,391.1" fill="#00ff66"/>
<polygon points="627.1,389.7 637.6,389.7 637.6,391.1 627.1,391.1" fill="#eeff00"/>
<polygon points="603.9,385.0 608.8,385.0 608.8,386.7 603.9,386.7" fill="#7700aa"/>
</g>
<rect x="256" y="131" width="392" height="261" fill="none" stroke="#000" stroke-width="2"/>
<g fill="#000"><rect x="271" y="388" width="1" height="3"/><rect x="271" y="132" width="1" height="4"/><rect x="286" y="388" width="1" height="3"/><rect x="286" y="132" width="1" height="4"/><rect x="302" y="388" width="1" height="3"/><rect x="302" y="132" width="1" height="4"/><rect x="317" y="388" width="1" height="3"/><rect x="317" y="132" width="1" height="4"/><rect x="348" y="388" width="1" height="3"/><rect x="348" y="132" width="1" height="4"/><rect x="363" y="388" width="1" height="3"/><rect x="363" y="132" width="1" height="4"/><rect x="378" y="388" width="1" height="3"/><rect x="378" y="132" width="1" height="4"/><rect x="394" y="388" width="1" height="3"/><rect x="394" y="132" width="1" height="4"/><rect x="424" y="388" width="1" height="3"/><rect x="424" y="132" width="1" height="4"/><rect x="440" y="388" width="1" height="3"/><rect x="440" y="132" width="1" height="4"/><rect x="455" y="388" width="1" height="3"/><rect x="455" y="132" width="1" height="4"/><rect x="470" y="388" width="1" height="3"/><rect x="470" y="132" width="1" height="4"/><rect x="501" y="388" width="1" height="3"/><rect x="501" y="132" width="1" height="4"/><rect x="516" y="388" width="1" height="3"/><rect x="516" y="132" width="1" height="4"/><rect x="532" y="388" width="1" height="3"/><rect x="532" y="132" width="1" height="4"/><rect x="547" y="388" width="1" height="3"/><rect x="547" y="132" width="1" height="4"/><rect x="578" y="388" width="1" height="3"/><rect x="578" y="132" width="1" height="4"/><rect x="593" y="388" width="1" height="3"/><rect x="593" y="132" width="1" height="4"/><rect x="608" y="388" width="1" height="3"/><rect x="608" y="132" width="1" height="4"/><rect x="624" y="388" width="1" height="3"/><rect x="624" y="132" width="1" height="4"/><rect x="331" y="382" width="2" height="9"/><rect x="331" y="132" width="2" height="9"/><rect x="408" y="382" width="2" height="9"/><rect x="408" y="132" width="2" height="9"/><rect x="485" y="382" width="2" height="9"/><rect x="485" y="132" width="2" height="9"/><rect x="561" y="382" width="2" height="9"/><rect x="561" y="132" width="2" height="9"/><rect x="638" y="382" width="2" height="9"/><rect x="638" y="132" width="2" height="9"/><rect x="257" y="147" width="4" height="1"/><rect x="644" y="147" width="3" height="1"/><rect x="257" y="165" width="4" height="1"/><rect x="644" y="165" width="3" height="1"/><rect x="257" y="182" width="4" height="1"/><rect x="644" y="182" width="3" height="1"/><rect x="257" y="200" width="4" height="1"/><rect x="644" y="200" width="3" height="1"/><rect x="257" y="235" width="4" height="1"/><rect x="644" y="235" width="3" height="1"/><rect x="257" y="253" width="4" height="1"/><rect x="644" y="253" width="3" height="1"/><rect x="257" y="270" width="4" height="1"/><rect x="644" y="270" width="3" height="1"/><rect x="257" y="288" width="4" height="1"/><rect x="644" y="288" width="3" height="1"/><rect x="257" y="323" width="4" height="1"/><rect x="644" y="323" width="3" height="1"/><rect x="257" y="341" width="4" height="1"/><rect x="644" y="341" width="3" height="1"/><rect x="257" y="358" width="4" height="1"/><rect x="644" y="358" width="3" height="1"/><rect x="257" y="376" width="4" height="1"/><rect x="644" y="376" width="3" height="1"/><rect x="257" y="217" width="9" height="2"/><rect x="638" y="217" width="9" height="2"/><rect x="257" y="305" width="9" height="2"/><rect x="638" y="305" width="9" height="2"/></g>
<rect x="663" y="195" width="15" height="198" fill="#000"/><rect x="665" y="197" width="11" height="19" fill="#ff7070"/><rect x="665" y="218" width="11" height="19" fill="#ff1111"/><rect x="665" y="239" width="11" height="18" fill="#ff6600"/><rect x="665" y="259" width="11" height="8" fill="#ff9900"/><rect x="665" y="269" width="11" height="4" fill="#ffcc00"/><rect x="665" y="275" width="11" height="3" fill="#eeff00"/><rect x="665" y="280" width="11" height="3" fill="#00ff66"/><rect x="665" y="285" width="11" height="3" fill="#00ffff"/><rect x="665" y="290" width="11" height="8" fill="#0022ff"/><rect x="665" y="300" width="11" height="19" fill="#0000aa"/><rect x="665" y="321" width="11" height="19" fill="#7700aa"/><rect x="665" y="342" width="11" height="18" fill="#b400aa"/><rect x="665" y="362" width="11" height="29" fill="#e600aa"/><polygon points="670.8,165.6 672.2,165.6 678.1,196 663.4,196" fill="#000"/><polygon points="671.5,170.5 676.6,195 666.4,195" fill="#ffbbbb"/>
<g transform="translate(306.013 84.013) scale(1.0)" fill="none" stroke="#000" stroke-width="2.000" stroke-linecap="square" stroke-linejoin="round" ><path transform="translate(0.00 0)" d="M0 0V-20M13 0V-20M0 -10.5H13"/><path transform="translate(20.00 0)" d="M0.5 -15L1.5 -18L4 -20H9.5L12.5 -18L13 -15.5L12.5 -13L10 -10L0 0H13.5"/><path transform="translate(39.00 0)" d="M5 -20H10L13.5 -17L15 -13.5V-6L14 -2.5L11 0H4.5L1.5 -1.5L0 -5V-13L1.5 -17Z"/><path transform="translate(60.00 0)" d="M0 -8H18"/><path transform="translate(84.00 0)" d="M12 -13V4L10 6.5H3.5L2 5M12 -10.5L9.5 -13H4.5L1.5 -11L0 -7.5V-5L1.5 -2L4 -0.5H9L12 -3"/><path transform="translate(119.00 0)" d="M0 0V-20L7.5 0L15 -20V0"/><path transform="translate(142.00 0)" d="M0 0V-13M0 -20.5h0.01"/><path transform="translate(148.00 0)" d="M0 -13L11 0M11 -13L0 0"/><path transform="translate(166.00 0)" d="M0 0V-13M0 -20.5h0.01"/><path transform="translate(173.00 0)" d="M0 0V-13M0 -9.5L2.5 -12.5L4.5 -13H8L10.5 -11.5L11 -9.5V0"/><path transform="translate(190.00 0)" d="M12 -13V4L10 6.5H3.5L2 5M12 -10.5L9.5 -13H4.5L1.5 -11L0 -7.5V-5L1.5 -2L4 -0.5H9L12 -3"/><path transform="translate(225.00 0)" d="M0 0V-20H9L12 -18.5L13 -16V-13.5L12 -11.5L9 -10H0M6.5 -10L13 0"/><path transform="translate(244.00 0)" d="M11 -13V0M11 -10.5L9 -13H4L1 -10.5L0 -7V-5L1 -2L3.5 0H8.5L11 -3"/><path transform="translate(261.00 0)" d="M0 -13H7M3 -20V-2.5L5 0H8"/><path transform="translate(274.00 0)" d="M0 0V-13M0 -20.5h0.01"/><path transform="translate(281.00 0)" d="M4 -13H8L11 -11L12 -8V-4.5L11 -1.5L8.5 0H3.5L1 -1.5L0 -4.5V-8L1 -11Z"/></g>
<g transform="translate(374.013 468.013) scale(0.765)" fill="none" stroke="#000" stroke-width="2.614" stroke-linecap="square" stroke-linejoin="round" ><path transform="translate(0.00 0)" d="M0 -20L14 0M14 -20L0 0"/><path transform="translate(20.92 0)" d="M0 -8H18"/><path transform="translate(45.75 0)" d="M12 -11L10 -13H4L1 -10.5L0 -7V-5L1 -2L3.5 0H9.5L12 -2"/><path transform="translate(64.58 0)" d="M4 -13H8L11 -11L12 -8V-4.5L11 -1.5L8.5 0H3.5L1 -1.5L0 -4.5V-8L1 -11Z"/><path transform="translate(83.66 0)" d="M4 -13H8L11 -11L12 -8V-4.5L11 -1.5L8.5 0H3.5L1 -1.5L0 -4.5V-8L1 -11Z"/><path transform="translate(99.61 0)" d="M0 0V-13M0 -9L3 -12L5 -13H9L11 -11.5"/><path transform="translate(115.95 0)" d="M12 -20V0M12 -10.5L9.5 -13H4L1 -10.5L0 -7V-5L1 -2L3.5 0H9L12 -3"/><path transform="translate(135.16 0)" d="M0 0V-13M0 -20.5h0.01"/><path transform="translate(143.01 0)" d="M0 0V-13M0 -9.5L2.5 -12.5L4.5 -13H8L10.5 -11.5L11 -9.5V0"/><path transform="translate(161.18 0)" d="M11 -13V0M11 -10.5L9 -13H4L1 -10.5L0 -7V-5L1 -2L3.5 0H8.5L11 -3"/><path transform="translate(179.35 0)" d="M0 -13H7M3 -20V-2.5L5 0H8"/><path transform="translate(192.42 0)" d="M0 -6.5H11.5V-9L9.5 -12L7 -13H4L1 -10.5L0 -7V-5L1 -2L3.5 0H9.5L11.5 -1.5"/></g>
<g transform="translate(217.013 338.613) rotate(-90) scale(0.765)" fill="none" stroke="#000" stroke-width="2.614" stroke-linecap="square" stroke-linejoin="round" ><path transform="translate(0.00 0)" d="M0 -20H13L0 0H13"/><path transform="translate(18.69 0)" d="M0 -8H18"/><path transform="translate(43.53 0)" d="M12 -11L10 -13H4L1 -10.5L0 -7V-5L1 -2L3.5 0H9.5L12 -2"/><path transform="translate(62.35 0)" d="M4 -13H8L11 -11L12 -8V-4.5L11 -1.5L8.5 0H3.5L1 -1.5L0 -4.5V-8L1 -11Z"/><path transform="translate(81.44 0)" d="M4 -13H8L11 -11L12 -8V-4.5L11 -1.5L8.5 0H3.5L1 -1.5L0 -4.5V-8L1 -11Z"/><path transform="translate(97.39 0)" d="M0 0V-13M0 -9L3 -12L5 -13H9L11 -11.5"/><path transform="translate(113.73 0)" d="M12 -20V0M12 -10.5L9.5 -13H4L1 -10.5L0 -7V-5L1 -2L3.5 0H9L12 -3"/><path transform="translate(132.94 0)" d="M0 0V-13M0 -20.5h0.01"/><path transform="translate(140.78 0)" d="M0 0V-13M0 -9.5L2.5 -12.5L4.5 -13H8L10.5 -11.5L11 -9.5V0"/><path transform="translate(158.95 0)" d="M11 -13V0M11 -10.5L9 -13H4L1 -10.5L0 -7V-5L1 -2L3.5 0H8.5L11 -3"/><path transform="translate(177.12 0)" d="M0 -13H7M3 -20V-2.5L5 0H8"/><path transform="translate(190.20 0)" d="M0 -6.5H11.5V-9L9.5 -12L7 -13H4L1 -10.5L0 -7V-5L1 -2L3.5 0H9.5L11.5 -1.5"/></g>
<g transform="translate(166.013 107.713) scale(0.58)" fill="none" stroke="#000" stroke-width="3.448" stroke-linecap="square" stroke-linejoin="round" ><path transform="translate(0.00 0)" d="M5 -20.5L2 -16L0 -10.5V-7.5L2 -2L5 2"/><path transform="translate(13.79 0)" d="M0 -14L13.5 -1.5M13.5 -14L0 -1.5"/><path transform="translate(36.21 0)" d="M0 -14.5L5.5 -20V0"/><path transform="translate(55.17 0)" d="M14 -20H0V0H14M0 -10.5H12"/><path transform="translate(72.41 0)" d="M10 0V-20L0 -6.5H15"/><path transform="translate(110.34 0)" d="M0 0V-13M0 -10L2.5 -12.5L4.5 -13H7L9.5 -11.5L10.2 -9.5V0M10.2 -10L12.7 -12.5L14.7 -13H17.5L20 -11.5L20.5 -9.5V0"/><path transform="translate(139.66 0)" d="M0 -20.5L3 -16L5 -10.5V-7.5L3 -2L0 2"/></g>
<g transform="translate(569.013 437.213) scale(0.58)" fill="none" stroke="#000" stroke-width="3.448" stroke-linecap="square" stroke-linejoin="round" ><path transform="translate(0.00 0)" d="M5 -20.5L2 -16L0 -10.5V-7.5L2 -2L5 2"/><path transform="translate(13.79 0)" d="M0 -14L13.5 -1.5M13.5 -14L0 -1.5"/><path transform="translate(36.21 0)" d="M0 -14.5L5.5 -20V0"/><path transform="translate(55.17 0)" d="M14 -20H0V0H14M0 -10.5H12"/><path transform="translate(72.41 0)" d="M12.5 -20H2.5L2 -11.5L5 -13H9L12 -11L12.7 -8V-3L11 -0.5L8 0H3.5L0 -2.5"/><path transform="translate(110.34 0)" d="M0 0V-13M0 -10L2.5 -12.5L4.5 -13H7L9.5 -11.5L10.2 -9.5V0M10.2 -10L12.7 -12.5L14.7 -13H17.5L20 -11.5L20.5 -9.5V0"/><path transform="translate(139.66 0)" d="M0 -20.5L3 -16L5 -10.5V-7.5L3 -2L0 2"/></g>
<g transform="translate(656.513 142.013) scale(0.53)" fill="none" stroke="#000" stroke-width="1.887" stroke-linecap="square" stroke-linejoin="round" ><path transform="translate(0.00 0)" d="M0 -13H7M3 -20V-2.5L5 0H8"/><path transform="translate(13.21 0)" d="M0 -11.5H19M0 -5H19"/><path transform="translate(41.51 0)" d="M0 -14.5L5.5 -20V0"/><path transform="translate(59.06 0)" d="M0.5 -15L1.5 -18L4 -20H9.5L12.5 -18L13 -15.5L12.5 -13L10 -10L0 0H13.5"/><path transform="translate(80.94 0)" d="M0 -14.5L5.5 -20V0"/><path transform="translate(100.00 0)" d="M0.5 -15L1.5 -18L4 -20H9.5L12.5 -18L13 -15.5L12.5 -13L10 -10L0 0H13.5"/><path transform="translate(119.06 0)" d="M4 -20H9.5L13.5 -16V-4L9.5 0H4L0 -4V-16Z"/><path transform="translate(139.43 0)" d="M4 -20H9.5L13.5 -16V-4L9.5 0H4L0 -4V-16Z"/><path transform="translate(175.47 0)" d="M11 -11L9 -13H3L0.5 -11V-8.5L3 -7H8.5L11 -5.5V-2L9 0H2.5L0 -2"/></g>
<g transform="translate(687.913 242.013) scale(0.55)" fill="none" stroke="#000" stroke-width="3.636" stroke-linecap="square" stroke-linejoin="round" ><path transform="translate(0.00 0)" d="M3.5 -20H8.5L12 -16V-4L8.5 0H3.5L0 -4V-16Z"/><path transform="translate(19.27 0)" d="M0 -0.5h0.01"/><path transform="translate(27.64 0)" d="M3.5 -20H8.5L12 -16V-4L8.5 0H3.5L0 -4V-16Z"/><path transform="translate(46.00 0)" d="M3.5 -20H8.5L12 -16V-4L8.5 0H3.5L0 -4V-16Z"/><path transform="translate(65.82 0)" d="M10 0V-20L0 -6.5H15"/></g>
<g transform="translate(687.813 277.613) scale(0.52)" fill="none" stroke="#000" stroke-width="3.846" stroke-linecap="square" stroke-linejoin="round" ><path transform="translate(0.00 0)" d="M12.5 -20H2.5L2 -11.5L5 -13H9L12 -11L12.7 -8V-3L11 -0.5L8 0H3.5L0 -2.5"/><path transform="translate(19.42 0)" d="M0 -6.5H11.5V-9L9.5 -12L7 -13H4L1 -10.5L0 -7V-5L1 -2L3.5 0H9.5L11.5 -1.5"/><path transform="translate(38.65 0)" d="M0 -8H18"/><path transform="translate(61.92 0)" d="M10 0V-20L0 -6.5H15"/></g>
<g transform="translate(688.013 293.913) scale(0.55)" fill="none" stroke="#000" stroke-width="3.636" stroke-linecap="square" stroke-linejoin="round" ><path transform="translate(0.00 0)" d="M0 -8H18"/><path transform="translate(23.45 0)" d="M3.5 -20H8.5L12 -16V-4L8.5 0H3.5L0 -4V-16Z"/><path transform="translate(44.55 0)" d="M0 -0.5h0.01"/><path transform="translate(52.18 0)" d="M3.5 -20H8.5L12 -16V-4L8.5 0H3.5L0 -4V-16Z"/><path transform="translate(71.82 0)" d="M3.5 -20H8.5L12 -16V-4L8.5 0H3.5L0 -4V-16Z"/><path transform="translate(91.09 0)" d="M0 -14.5L5.5 -20V0"/></g>
<g transform="translate(687.813 344.613) scale(0.52)" fill="none" stroke="#000" stroke-width="3.846" stroke-linecap="square" stroke-linejoin="round" ><path transform="translate(0.00 0)" d="M0 -8H18"/><path transform="translate(25.19 0)" d="M3.5 -20H8.5L12 -16V-4L8.5 0H3.5L0 -4V-16Z"/><path transform="translate(47.12 0)" d="M0 -0.5h0.01"/><path transform="translate(54.62 0)" d="M3.5 -20H8.5L12 -16V-4L8.5 0H3.5L0 -4V-16Z"/><path transform="translate(76.35 0)" d="M3.5 -20H8.5L12 -16V-4L8.5 0H3.5L0 -4V-16Z"/><path transform="translate(95.38 0)" d="M12.5 -18L10 -20H4L1 -17L0 -13V-4L2 -1L4.5 0H9L12 -2L12.5 -4.5V-7L11.5 -10L9 -12H4L1 -10L0 -8"/></g>
<g transform="translate(329.613 414.013) scale(0.6)" fill="none" stroke="#000" stroke-width="3.333" stroke-linecap="square" stroke-linejoin="round" ><path transform="translate(0.00 0)" d="M0 -14.5L5.5 -20V0"/></g>
<g transform="translate(405.013 414.013) scale(0.6)" fill="none" stroke="#000" stroke-width="3.333" stroke-linecap="square" stroke-linejoin="round" ><path transform="translate(0.00 0)" d="M0.5 -15L1.5 -18L4 -20H9.5L12.5 -18L13 -15.5L12.5 -13L10 -10L0 0H13.5"/></g>
<g transform="translate(482.013 414.013) scale(0.6)" fill="none" stroke="#000" stroke-width="3.333" stroke-linecap="square" stroke-linejoin="round" ><path transform="translate(0.00 0)" d="M1 -20H12L6.5 -11.5H8.5L11.5 -10L12.5 -7.5V-3.5L11 -1L8 0H3.5L0 -2.5"/></g>
<g transform="translate(558.013 414.013) scale(0.6)" fill="none" stroke="#000" stroke-width="3.333" stroke-linecap="square" stroke-linejoin="round" ><path transform="translate(0.00 0)" d="M10 0V-20L0 -6.5H15"/></g>
<g transform="translate(635.013 414.013) scale(0.6)" fill="none" stroke="#000" stroke-width="3.333" stroke-linecap="square" stroke-linejoin="round" ><path transform="translate(0.00 0)" d="M12.5 -20H2.5L2 -11.5L5 -13H9L12 -11L12.7 -8V-3L11 -0.5L8 0H3.5L0 -2.5"/></g>
<g transform="translate(236.013 223.013) scale(0.6)" fill="none" stroke="#000" stroke-width="3.333" stroke-linecap="square" stroke-linejoin="round" ><path transform="translate(0.00 0)" d="M0.5 -15L1.5 -18L4 -20H9.5L12.5 -18L13 -15.5L12.5 -13L10 -10L0 0H13.5"/></g>
<g transform="translate(237.913 311.013) scale(0.6)" fill="none" stroke="#000" stroke-width="3.333" stroke-linecap="square" stroke-linejoin="round" ><path transform="translate(0.00 0)" d="M0 -14.5L5.5 -20V0"/></g>
</svg>
</body></html>
